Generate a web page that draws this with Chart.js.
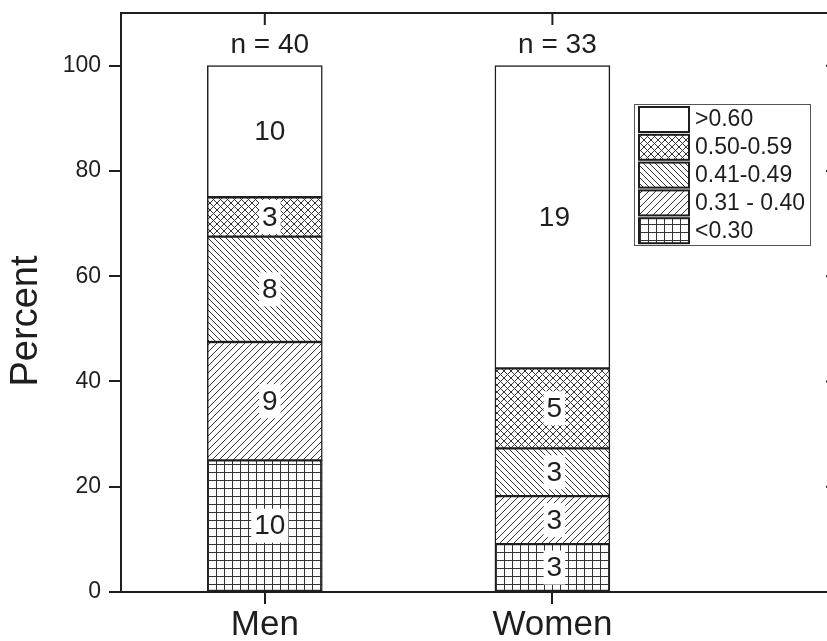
<!DOCTYPE html>
<html>
<head>
<meta charset="utf-8">
<script src="https://cdn.jsdelivr.net/npm/chart.js@4.4.1/dist/chart.umd.min.js"></script>
<style>
  html, body { margin: 0; padding: 0; background: #fff; overflow: hidden; }
  #wrap { width: 827px; height: 641px; overflow: hidden; }
  #box { width: 860px; height: 641px; }
</style>
</head>
<body>
<div id="wrap"><div id="box"><canvas id="chart"></canvas></div></div>
<script>
// groups and their sample size
const groups = ['Men', 'Women'];
const groupN = ['n = 40', 'n = 33'];

// classes, bottom to top
const classes = ['<0.30', '0.31 - 0.40', '0.41-0.49', '0.50-0.59', '>0.60'];

// percent of each group in each class
const menPct   = [25, 22.5, 20, 7.5, 25];
const womenPct = [9.1, 9.1, 9.1, 15.2, 57.5];

// counts printed inside the segments
const menCount   = [10, 9, 8, 3, 10];
const womenCount = [3, 3, 3, 5, 19];

const yTicks = [0, 20, 40, 60, 80, 100];

const ink = '#1e1e1e';
const font = "'Liberation Sans', Arial, sans-serif";

// hatch patterns
function makePattern(kind, s) {
    const c = document.createElement('canvas');
    c.width = s; c.height = s;
    const g = c.getContext('2d');
    g.fillStyle = '#fff';
    g.fillRect(0, 0, s, s);
    g.strokeStyle = '#333';
    g.lineWidth = 1;
    g.beginPath();
    if (kind === 'grid') {
        g.moveTo(0.5, 0); g.lineTo(0.5, s);
        g.moveTo(0, 0.5); g.lineTo(s, 0.5);
    }
    if (kind === 'fwd' || kind === 'cross') {
        g.moveTo(-1, s + 1); g.lineTo(s + 1, -1);
        g.moveTo(-1, 1); g.lineTo(1, -1);
        g.moveTo(s - 1, s + 1); g.lineTo(s + 1, s - 1);
    }
    if (kind === 'back' || kind === 'cross') {
        g.moveTo(-1, -1); g.lineTo(s + 1, s + 1);
        g.moveTo(s - 1, -1); g.lineTo(s + 1, 1);
        g.moveTo(-1, s - 1); g.lineTo(1, s + 1);
    }
    g.stroke();
    return g.createPattern(c, 'repeat');
}

const fills = [
    makePattern('grid', 8),
    makePattern('fwd', 7),
    makePattern('back', 6),
    makePattern('cross', 7),
    '#ffffff'
];

const counts = [menCount, womenCount];

const datasets = classes.map(function (cls, i) {
    return {
        label: cls,
        data: [{ x: 1, y: menPct[i] }, { x: 2, y: womenPct[i] }],
        backgroundColor: fills[i],
        borderColor: ink,
        borderWidth: 1.5,
        borderSkipped: false,
        barThickness: 115
    };
});

// frame, inward ticks, segment labels, n labels, y title, legend
const decor = {
    id: 'decor',
    afterDatasetsDraw(chart) {
        const ctx = chart.ctx;
        const a = chart.chartArea;
        const xs = chart.scales.x, ys = chart.scales.y;
        ctx.save();

        // top and right frame
        ctx.strokeStyle = ink;
        ctx.lineWidth = 2;
        ctx.beginPath();
        ctx.moveTo(a.left, a.top); ctx.lineTo(a.right, a.top); ctx.lineTo(a.right, a.bottom);
        groups.forEach(function (g, j) {
            const px = xs.getPixelForValue(j + 1);
            ctx.moveTo(px, a.top); ctx.lineTo(px, a.top + 12);
        });
        yTicks.forEach(function (v) {
            const py = ys.getPixelForValue(v);
            ctx.moveTo(a.right, py); ctx.lineTo(a.right - 14, py);
        });
        ctx.stroke();

        // counts in segments
        ctx.font = '28px ' + font;
        ctx.textAlign = 'center';
        ctx.textBaseline = 'middle';
        chart.data.datasets.forEach(function (ds, i) {
            chart.getDatasetMeta(i).data.forEach(function (bar, j) {
                const t = String(counts[j][i]);
                const cx = bar.x + (j === 0 ? 5 : 2);
                const cy = (bar.y + bar.base) / 2;
                const w = ctx.measureText(t).width;
                ctx.fillStyle = '#fff';
                ctx.fillRect(cx - w / 2 - 3, cy - 17, w + 6, 34);
                ctx.fillStyle = ink;
                ctx.fillText(t, cx, cy + 1);
            });
        });

        // n = ... above bars
        const top = chart.getDatasetMeta(classes.length - 1).data;
        ctx.textBaseline = 'alphabetic';
        top.forEach(function (bar, j) {
            ctx.fillText(groupN[j], bar.x + 5, bar.y - 13);
        });

        // y title
        ctx.save();
        ctx.translate(27, 321);
        ctx.rotate(-Math.PI / 2);
        ctx.font = '38px ' + font;
        ctx.textBaseline = 'middle';
        ctx.fillText('Percent', 0, 0);
        ctx.restore();

        // legend, top class first
        const lx = 634, ly = 104, lw = 176, rowH = 27.8;
        ctx.fillStyle = '#fff';
        ctx.fillRect(lx, ly, lw, 141);
        ctx.strokeStyle = '#555';
        ctx.lineWidth = 1;
        ctx.strokeRect(lx + 0.5, ly + 0.5, lw, 141);
        ctx.font = '23px ' + font;
        ctx.textAlign = 'left';
        ctx.textBaseline = 'middle';
        for (let k = 0; k < classes.length; k++) {
            const i = classes.length - 1 - k;
            const ry = ly + 3 + k * rowH;
            ctx.fillStyle = fills[i];
            ctx.fillRect(lx + 5, ry, 50, 25);
            ctx.strokeStyle = ink;
            ctx.lineWidth = 2;
            ctx.strokeRect(lx + 5, ry, 50, 25);
            ctx.fillStyle = ink;
            ctx.fillText(classes[i], lx + 61, ry + 13);
        }
        ctx.restore();
    }
};

new Chart(document.getElementById('chart'), {
    type: 'bar',
    data: { datasets: datasets },
    options: {
        responsive: true,
        maintainAspectRatio: false,
        animation: false,
        layout: { padding: { top: 13, right: 20, left: 0, bottom: 0 } },
        plugins: { legend: { display: false }, tooltip: { enabled: false } },
        scales: {
            x: {
                type: 'linear',
                stacked: true,
                offset: false,
                min: 0.5,
                max: 3.0,
                afterBuildTicks: function (axis) {
                    axis.ticks = groups.map(function (g, j) { return { value: j + 1 }; });
                },
                afterFit: function (axis) {
                    axis.height = 49;
                    axis.paddingLeft = 0;
                    axis.paddingRight = 0;
                },
                ticks: {
                    color: ink,
                    font: { family: font, size: 35 },
                    padding: 0,
                    maxRotation: 0,
                    callback: function (v) { return groups[v - 1]; }
                },
                grid: { offset: false, drawOnChartArea: false, drawTicks: true, tickLength: 12, color: ink, lineWidth: 2 },
                border: { display: true, color: ink, width: 2 }
            },
            y: {
                stacked: true,
                min: 0,
                max: 110,
                afterBuildTicks: function (axis) {
                    axis.ticks = yTicks.map(function (v) { return { value: v }; });
                },
                afterFit: function (axis) {
                    axis.width = 121;
                    axis.paddingTop = 0;
                    axis.paddingBottom = 0;
                },
                ticks: {
                    color: ink,
                    font: { family: font, size: 23 },
                    padding: 8
                },
                grid: { drawOnChartArea: false, drawTicks: true, tickLength: 12, color: ink, lineWidth: 2 },
                border: { display: true, color: ink, width: 2 }
            }
        }
    },
    plugins: [decor]
});
</script>
</body>
</html>
